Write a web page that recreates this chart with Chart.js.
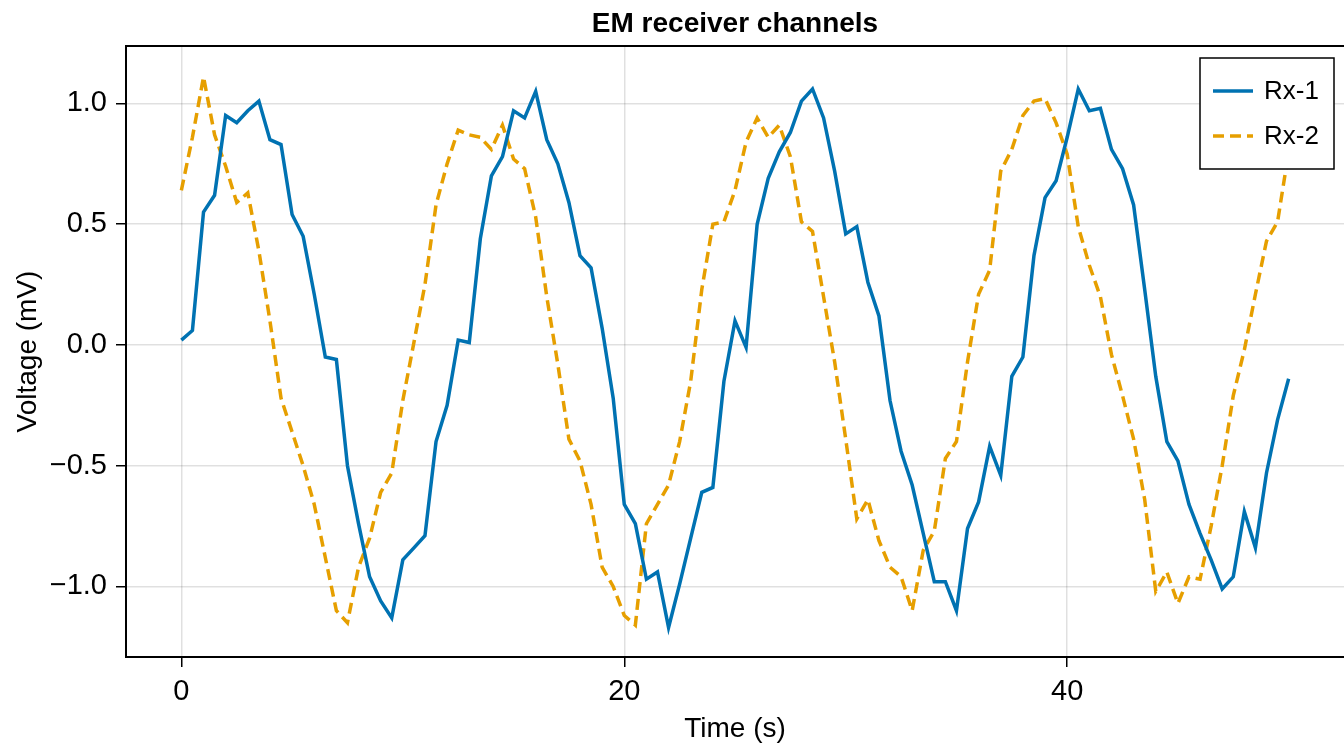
<!DOCTYPE html>
<html>
<head>
<meta charset="utf-8">
<script src="https://cdn.jsdelivr.net/npm/chart.js@4.4.1/dist/chart.umd.min.js"></script>
<style>
  html, body { margin: 0; padding: 0; background: #fff; }
  canvas { display: block; }
</style>
</head>
<body>
<canvas id="chart" width="1344" height="746"></canvas>
<script>
const timeSec = [
  0, 0.5, 1, 1.5, 2, 2.5, 3, 3.5, 4, 4.5, 5, 5.5, 6, 6.5, 7, 7.5, 8, 8.5, 9, 9.5,
  10, 10.5, 11, 11.5, 12, 12.5, 13, 13.5, 14, 14.5, 15, 15.5, 16, 16.5, 17, 17.5, 18, 18.5, 19, 19.5,
  20, 20.5, 21, 21.5, 22, 22.5, 23, 23.5, 24, 24.5, 25, 25.5, 26, 26.5, 27, 27.5, 28, 28.5, 29, 29.5,
  30, 30.5, 31, 31.5, 32, 32.5, 33, 33.5, 34, 34.5, 35, 35.5, 36, 36.5, 37, 37.5, 38, 38.5, 39, 39.5,
  40, 40.5, 41, 41.5, 42, 42.5, 43, 43.5, 44, 44.5, 45, 45.5, 46, 46.5, 47, 47.5, 48, 48.5, 49, 49.5,
  50
];

const rx1 = [
  0.02, 0.06, 0.55, 0.62, 0.95, 0.92, 0.97, 1.01, 0.85, 0.83,
  0.54, 0.45, 0.21, -0.05, -0.06, -0.50, -0.74, -0.96, -1.06, -1.13,
  -0.89, -0.84, -0.79, -0.40, -0.25, 0.02, 0.01, 0.44, 0.70, 0.78,
  0.97, 0.94, 1.05, 0.85, 0.75, 0.59, 0.37, 0.32, 0.07, -0.22,
  -0.66, -0.74, -0.97, -0.94, -1.17, -0.99, -0.80, -0.61, -0.59, -0.15,
  0.10, -0.01, 0.50, 0.69, 0.80, 0.88, 1.01, 1.06, 0.94, 0.72,
  0.46, 0.49, 0.26, 0.12, -0.23, -0.44, -0.58, -0.78, -0.98, -0.98,
  -1.10, -0.76, -0.65, -0.42, -0.54, -0.13, -0.05, 0.37, 0.61, 0.68,
  0.86, 1.06, 0.97, 0.98, 0.81, 0.73, 0.58, 0.23, -0.13, -0.40,
  -0.48, -0.66, -0.78, -0.89, -1.01, -0.96, -0.69, -0.84, -0.53, -0.31,
  -0.14
];

const rx2 = [
  0.64, 0.86, 1.11, 0.87, 0.74, 0.59, 0.63, 0.39, 0.10, -0.22,
  -0.36, -0.50, -0.66, -0.88, -1.10, -1.15, -0.92, -0.80, -0.61, -0.53,
  -0.23, 0.01, 0.25, 0.58, 0.75, 0.89, 0.87, 0.86, 0.81, 0.91,
  0.77, 0.73, 0.53, 0.20, -0.08, -0.39, -0.48, -0.66, -0.92, -1.00,
  -1.12, -1.16, -0.74, -0.66, -0.58, -0.40, -0.15, 0.23, 0.50, 0.51,
  0.64, 0.84, 0.94, 0.86, 0.91, 0.78, 0.51, 0.47, 0.20, -0.07,
  -0.39, -0.72, -0.64, -0.81, -0.92, -0.96, -1.10, -0.85, -0.77, -0.47,
  -0.40, -0.07, 0.21, 0.31, 0.72, 0.81, 0.95, 1.01, 1.02, 0.92,
  0.79, 0.49, 0.33, 0.20, -0.04, -0.21, -0.39, -0.64, -1.02, -0.94,
  -1.07, -0.96, -0.97, -0.75, -0.50, -0.21, -0.02, 0.21, 0.43, 0.51,
  0.80
];

const xTicks = [0, 20, 40];
const yTicks = [-1.0, -0.5, 0.0, 0.5, 1.0];

const FONT = "'Liberation Sans', 'DejaVu Sans', sans-serif";
const BLUE = "#0072b2";
const ORANGE = "#e69f00";

// title centred over the plot area, top spine, legend box
const framePlugin = {
    id: "frame",
    afterDraw(chart) {
        const ctx = chart.ctx;
        const a = chart.chartArea;
        ctx.save();

        ctx.strokeStyle = "#000";
        ctx.lineWidth = 2;
        ctx.beginPath();
        ctx.moveTo(a.left - 1, a.top);
        ctx.lineTo(a.right, a.top);
        ctx.stroke();

        ctx.fillStyle = "#000";
        ctx.font = `bold 28px ${FONT}`;
        ctx.textAlign = "center";
        ctx.textBaseline = "middle";
        ctx.fillText("EM receiver channels", (a.left + a.right) / 2, 24);

        // legend
        const bx = 1200, by = 58, bw = 134, bh = 111;
        ctx.fillStyle = "#fff";
        ctx.fillRect(bx, by, bw, bh);
        ctx.strokeStyle = "#000";
        ctx.lineWidth = 1.5;
        ctx.strokeRect(bx, by, bw, bh);

        chart.data.datasets.forEach((ds, i) => {
            const cy = by + 33 + i * 45;
            ctx.strokeStyle = ds.borderColor;
            ctx.lineWidth = ds.borderWidth;
            ctx.setLineDash(ds.borderDash || []);
            ctx.beginPath();
            ctx.moveTo(bx + 13, cy);
            ctx.lineTo(bx + 53, cy);
            ctx.stroke();
            ctx.setLineDash([]);
            ctx.fillStyle = "#000";
            ctx.font = `26px ${FONT}`;
            ctx.textAlign = "left";
            ctx.fillText(ds.label, bx + 64, cy + 1);
        });
        ctx.restore();
    }
};

const fmtY = v => v.toFixed(1).replace("-", "\u2212");

new Chart(document.getElementById("chart"), {
    type: "line",
    data: {
        datasets: [
            {
                label: "Rx-1",
                data: timeSec.map((t, i) => ({ x: t, y: rx1[i] })),
                borderColor: BLUE,
                borderWidth: 3.5,
                pointRadius: 0,
                tension: 0,
                fill: false
            },
            {
                label: "Rx-2",
                data: timeSec.map((t, i) => ({ x: t, y: rx2[i] })),
                borderColor: ORANGE,
                borderWidth: 3.5,
                borderDash: [11, 6],
                pointRadius: 0,
                tension: 0,
                fill: false
            }
        ]
    },
    options: {
        responsive: false,
        animation: false,
        devicePixelRatio: 1,
        layout: { padding: { top: 46, right: 0, left: 0, bottom: 0 } },
        plugins: {
            legend: { display: false },
            title: { display: false },
            tooltip: { enabled: false }
        },
        scales: {
            x: {
                type: "linear",
                min: -2.5,
                max: 52.5,
                afterFit: s => { s.height = 89; },
                afterBuildTicks: s => { s.ticks = xTicks.map(v => ({ value: v })); },
                border: { display: true, color: "#000", width: 2 },
                grid: {
                    color: "rgba(0,0,0,0.12)",
                    lineWidth: 1.5,
                    drawTicks: true,
                    tickLength: 10,
                    tickColor: "#000",
                    tickWidth: 1.5
                },
                ticks: {
                    autoSkip: false,
                    maxRotation: 0,
                    padding: 8,
                    color: "#000",
                    font: { family: FONT, size: 29 },
                    callback: v => String(v)
                },
                title: {
                    display: true,
                    text: "Time (s)",
                    color: "#000",
                    font: { family: FONT, size: 28, lineHeight: 1.2 },
                    padding: { top: 0, bottom: 0 }
                }
            },
            y: {
                type: "linear",
                min: -1.292,
                max: 1.238,
                afterFit: s => { s.width = 126; },
                afterBuildTicks: s => { s.ticks = yTicks.map(v => ({ value: v })); },
                border: { display: true, color: "#000", width: 2 },
                grid: {
                    color: "rgba(0,0,0,0.12)",
                    lineWidth: 1.5,
                    drawTicks: true,
                    tickLength: 10,
                    tickColor: "#000",
                    tickWidth: 1.5
                },
                ticks: {
                    autoSkip: false,
                    padding: 9,
                    color: "#000",
                    font: { family: FONT, size: 29 },
                    callback: v => fmtY(v)
                },
                title: {
                    display: true,
                    text: "Voltage (mV)",
                    color: "#000",
                    font: { family: FONT, size: 28, lineHeight: 1.2 },
                    padding: { top: 11, bottom: 0 }
                }
            }
        }
    },
    plugins: [framePlugin]
});
</script>
</body>
</html>
